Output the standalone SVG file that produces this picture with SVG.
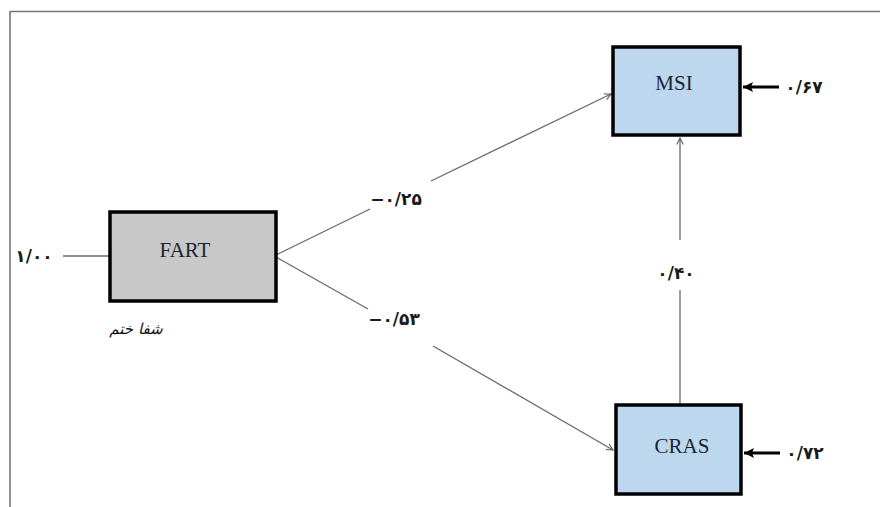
<svg xmlns="http://www.w3.org/2000/svg" width="880" height="507" viewBox="0 0 880 507">
<style>
.box{stroke:#000;stroke-width:3.5}
.lbl{font-family:"Liberation Serif",serif;font-size:21px;fill:#1a2533;text-anchor:middle}
.num{font-family:"DejaVu Sans",sans-serif;font-size:17px;font-weight:bold;fill:#1a1a1a;text-anchor:middle}
.thin{stroke:#6a6a6a;stroke-width:1.3;fill:none}
.thick{stroke:#000;stroke-width:3.2;fill:none}
</style>
<defs>
<marker id="open" viewBox="0 0 10 10" refX="9" refY="5" markerWidth="8" markerHeight="8" markerUnits="userSpaceOnUse" orient="auto">
<path d="M1,1 L9,5 L1,9" fill="none" stroke="#555" stroke-width="1.3"/>
</marker>
<marker id="solid" viewBox="0 0 10 10" refX="10" refY="5" markerWidth="10" markerHeight="12" markerUnits="userSpaceOnUse" orient="auto">
<path d="M0,0 L10,5 L0,10 L2,5 Z" fill="#000"/>
</marker>
</defs>
<rect width="880" height="507" fill="#fff"/>
<g id="frame" stroke="#777" stroke-width="1.6" fill="none">
<line x1="10" y1="11.5" x2="880" y2="11.5"/>
<line x1="10" y1="11" x2="10" y2="507"/>
</g>
<g id="connectors">
<line class="thin" x1="63" y1="256" x2="110" y2="256"/>
<line class="thin" x1="276" y1="255" x2="370" y2="209"/>
<line class="thin" x1="431" y1="181" x2="611" y2="94" marker-end="url(#open)"/>
<line class="thin" x1="276" y1="257" x2="368" y2="309"/>
<line class="thin" x1="433" y1="346" x2="613" y2="450" marker-end="url(#open)"/>
<line class="thin" x1="680" y1="404" x2="680" y2="290"/>
<line class="thin" x1="680" y1="240" x2="680" y2="138" marker-end="url(#open)"/>
<line class="thick" x1="779" y1="87" x2="743" y2="87" marker-end="url(#solid)"/>
<line class="thick" x1="780" y1="453" x2="744" y2="453" marker-end="url(#solid)"/>
</g>
<g id="node-fart">
<rect class="box" x="110" y="212" width="166" height="89" fill="#c8c8c8"/>
<text class="lbl" x="185" y="257">FART</text>
</g>
<g id="node-msi">
<rect class="box" x="613" y="47" width="127" height="88" fill="#bdd7ee"/>
<text class="lbl" x="674" y="90">MSI</text>
</g>
<g id="node-cras">
<rect class="box" x="616" y="405" width="125" height="89" fill="#bdd7ee"/>
<text class="lbl" x="682" y="453">CRAS</text>
</g>
<g id="labels">
<text class="num" x="34" y="262">۱/۰۰</text>
<text class="num" x="396" y="205">−۰/۲۵</text>
<text class="num" x="394" y="325">−۰/۵۳</text>
<text class="num" x="676" y="279">۰/۴۰</text>
<text class="num" x="804" y="93">۰/۶۷</text>
<text class="num" x="805" y="459">۰/۷۲</text>
<text x="136" y="334" font-family="DejaVu Sans,sans-serif" font-size="15" font-style="italic" fill="#111" text-anchor="middle">شفا ختم</text>
</g>
</svg>
